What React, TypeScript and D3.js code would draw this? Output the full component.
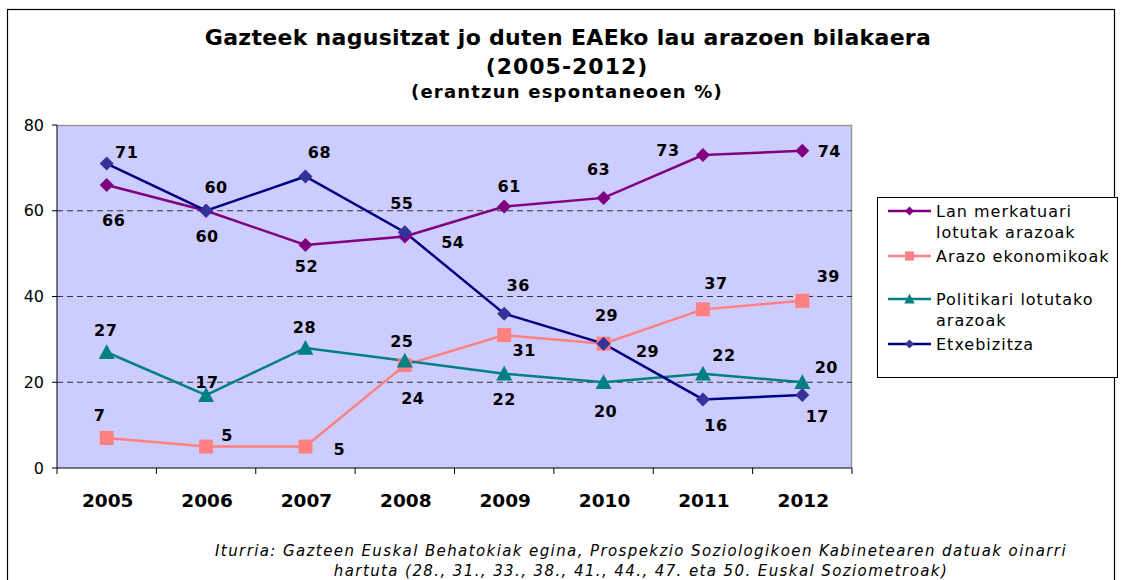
import React from 'react'
import * as d3 from 'd3'

const years = ['2005', '2006', '2007', '2008', '2009', '2010', '2011', '2012']
const yTicks = [0, 20, 40, 60, 80]

const lanMerkatua = [66, 60, 52, 54, 61, 63, 73, 74]
const arazoEkonomikoak = [7, 5, 5, 24, 31, 29, 37, 39]
const politikariak = [27, 17, 28, 25, 22, 20, 22, 20]
const etxebizitza = [71, 60, 68, 55, 36, 29, 16, 17]

const seriesNames = [
    ['Lan merkatuari', 'lotutak arazoak'],
    ['Arazo ekonomikoak'],
    ['Politikari lotutako', 'arazoak'],
    ['Etxebizitza'],
]

// where each value label sits around its point (dx, dy from marker centre to text centre)
const labelOffsets = [
    [[7, 35], [1, 26], [1, 21], [48, 6], [5, -20], [-5, -28], [-35, -5], [27, 1]],
    [[-7, -23], [21, -11], [34, 3], [8, 33], [20, 15], [44, 8], [13, -26], [26, -24]],
    [[-1, -22], [1, -13], [-1, -21], [-3, -19], [0, 26], [2, 29], [21, -18], [24, -15]],
    [[20, -11], [10, -23], [14, -24], [-3, -29], [14, -28], [3, -28], [13, 26], [15, 21]],
]

const diamond = (r: number) => `M0,${-r}L${r},0L0,${r}L${-r},0Z`
const square = (r: number) => `M${-r},${-r}H${r}V${r}H${-r}Z`
const triangle = (r: number) => `M0,${-r}L${r},${r * 0.85}L${-r},${r * 0.85}Z`

export default function App() {
    const margin = { left: 57, top: 125, right: 852, bottom: 468 }

    const x = d3.scaleBand().domain(years).range([margin.left, margin.right])
    const y = d3.scaleLinear().domain([0, 80]).range([margin.bottom, margin.top])
    const cx = (yr: string) => (x(yr) as number) + x.bandwidth() / 2

    const series = [
        { values: lanMerkatua, line: '#800080', fill: '#800080', shape: diamond, r: 7 },
        { values: arazoEkonomikoak, line: '#FF8080', fill: '#FF8080', shape: square, r: 7 },
        { values: politikariak, line: '#008080', fill: '#008080', shape: triangle, r: 8 },
        { values: etxebizitza, line: '#000080', fill: '#333399', shape: diamond, r: 7 },
    ]

    const line = d3.line<number>()
        .x((_, i) => cx(years[i]))
        .y(d => y(d))

    const font = "Verdana, 'DejaVu Sans', sans-serif"
    const legendRows = [211, 256, 299, 344]

    return (
        <svg width={1121} height={580} style={{ position: 'absolute', left: 0, top: 0 }} fontFamily={font}>
            <rect x={0} y={0} width={1121} height={580} fill="#fff" />
            <rect x={7.5} y={9.5} width={1107} height={620} fill="none" stroke="#000" strokeWidth={1.2} />

            <g textAnchor="middle" fontWeight="bold" fill="#000">
                <text x={568} y={45} fontSize={22} letterSpacing={0.3}>Gazteek nagusitzat jo duten EAEko lau arazoen bilakaera</text>
                <text x={567} y={74} fontSize={22} letterSpacing={1}>(2005-2012)</text>
                <text x={567} y={98} fontSize={18} letterSpacing={1.2}>(erantzun espontaneoen %)</text>
            </g>

            <rect x={margin.left} y={margin.top} width={margin.right - margin.left}
                height={margin.bottom - margin.top} fill="#CCCCFF" />
            <path d={`M${margin.left},${margin.top + 0.5}H${margin.right - 0.5}V${margin.bottom}`}
                fill="none" stroke="#999" strokeWidth={1.5} />

            {yTicks.filter(t => t > 0 && t < 80).map(t => (
                <line key={t} x1={margin.left} x2={margin.right} y1={y(t)} y2={y(t)}
                    stroke="#333" strokeWidth={1} strokeDasharray="6,4" />
            ))}

            <line x1={margin.left} x2={margin.left} y1={margin.top} y2={margin.bottom} stroke="#000" />
            <line x1={margin.left} x2={margin.right} y1={margin.bottom} y2={margin.bottom} stroke="#000" />
            {yTicks.map(t => (
                <g key={t}>
                    <line x1={margin.left - 5} x2={margin.left} y1={y(t)} y2={y(t)} stroke="#000" />
                    <text x={44} y={y(t)} dy="0.35em" textAnchor="end" fontSize={16}>{t}</text>
                </g>
            ))}
            {[...years.map(yr => x(yr) as number), margin.right].map((px, i) => (
                <line key={i} x1={px} x2={px} y1={margin.bottom} y2={margin.bottom + 6} stroke="#000" />
            ))}
            {years.map(yr => (
                <text key={yr} x={cx(yr) + 1} y={507} textAnchor="middle" fontSize={18.5} fontWeight="bold">{yr}</text>
            ))}

            {series.map((s, si) => (
                <path key={si} d={line(s.values) || ''} fill="none" stroke={s.line} strokeWidth={2.5} />
            ))}
            {series.map((s, si) => s.values.map((v, i) => (
                <path key={`${si}-${i}`} d={s.shape(s.r)} fill={s.fill}
                    transform={`translate(${cx(years[i])},${y(v)})`} />
            )))}
            {series.map((s, si) => s.values.map((v, i) => (
                <text key={`l${si}-${i}`} x={cx(years[i]) + labelOffsets[si][i][0]}
                    y={y(v) + labelOffsets[si][i][1]} dy="0.35em" textAnchor="middle"
                    fontSize={16} letterSpacing={0.5} fontWeight="bold" fill="#000">{v}</text>
            )))}

            <rect x={877.5} y={197.5} width={240} height={180} fill="#fff" stroke="#000" />
            {series.map((s, si) => (
                <g key={si} transform={`translate(0,${legendRows[si]})`}>
                    <line x1={888} x2={931} y1={0} y2={0} stroke={s.line} strokeWidth={2.5} />
                    <path d={s.shape(s.r * 0.65)} fill={s.fill} transform="translate(909.5,0)" />
                    {seriesNames[si].map((t, k) => (
                        <text key={k} x={936} y={k * 21} dy="0.35em" fontSize={16} letterSpacing={1}>{t}</text>
                    ))}
                </g>
            ))}

            <g textAnchor="middle" fontStyle="italic" fontSize={15} letterSpacing={1.4}>
                <text x={641} y={556}>Iturria: Gazteen Euskal Behatokiak egina, Prospekzio Soziologikoen Kabinetearen datuak oinarri</text>
                <text x={641} y={576}>hartuta (28., 31., 33., 38., 41., 44., 47. eta 50. Euskal Soziometroak)</text>
            </g>
        </svg>
    )
}
